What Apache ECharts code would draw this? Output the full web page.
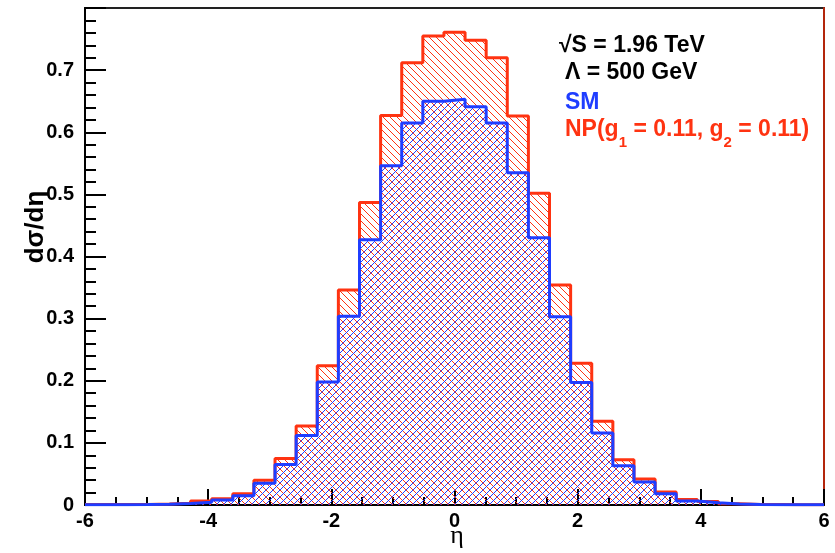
<!DOCTYPE html>
<html>
<head>
<meta charset="utf-8">
<script src="https://cdn.jsdelivr.net/npm/echarts@6/dist/echarts.min.js"></script>
<style>
  html, body { margin: 0; padding: 0; background: #fff; }
  #chart { width: 835px; height: 553px; }
</style>
</head>
<body>
<div id="chart"></div>
<script>
// histogram binning (eta)
const etaMin = -6;
const etaMax = 6;
const nBins = 35;

// bin contents (left to right)
const npValues = [0.0008, 0.0008, 0.001, 0.0015, 0.003, 0.0065, 0.010, 0.018, 0.040, 0.075,
  0.127, 0.224, 0.346, 0.487, 0.627, 0.712, 0.755, 0.761, 0.748, 0.720,
  0.626, 0.502, 0.354, 0.228, 0.135, 0.073, 0.042, 0.021, 0.009, 0.0055,
  0.002, 0.001, 0.0008, 0.0006, 0.0006];
const smValues = [0.0006, 0.0006, 0.0008, 0.0012, 0.0024, 0.0045, 0.008, 0.015, 0.035, 0.065,
  0.112, 0.198, 0.304, 0.427, 0.546, 0.615, 0.650, 0.653, 0.641, 0.615,
  0.535, 0.430, 0.303, 0.197, 0.116, 0.063, 0.037, 0.018, 0.0065, 0.0035,
  0.0015, 0.0008, 0.0006, 0.0005, 0.0005];

const xTicks = [-6, -4, -2, 0, 2, 4, 6];
const yTicks = [0, 0.1, 0.2, 0.3, 0.4, 0.5, 0.6, 0.7];

const RED = '#ff3311';
const BLUE = '#1f3dff';
const FONT = 'Liberation Sans, Arial, sans-serif';

// turn bin contents into step points at the bin edges
function toSteps(values) {
  const w = (etaMax - etaMin) / nBins;
  const pts = values.map((v, i) => [etaMin + i * w, v]);
  pts.push([etaMax, values[values.length - 1]]);
  return pts;
}

// ROOT style hatch fill (transparent background)
function hatch(color, back) {
  const n = 7;
  const c = document.createElement('canvas');
  c.width = n; c.height = n;
  const ctx = c.getContext('2d');
  ctx.fillStyle = color;
  for (let i = 0; i < n; i++) {
    ctx.fillRect(i, back ? i : n - 1 - i, 1, 1);
  }
  return c;
}

const myChart = echarts.init(document.getElementById('chart'));

const option = {
  animation: false,
  grid: {
    left: 85, right: 11, top: 8, bottom: 48,
    outerBoundsMode: 'none',
    show: true, borderColor: '#222', borderWidth: 2
  },
  xAxis: {
    type: 'value',
    min: xTicks[0], max: xTicks[xTicks.length - 1], interval: xTicks[1] - xTicks[0],
    axisLine: { onZero: false, lineStyle: { color: '#000', width: 2 } },
    axisTick: { inside: true, length: 16, lineStyle: { color: '#000', width: 2 } },
    minorTick: { show: true, splitNumber: 4, length: 8, lineStyle: { color: '#000', width: 2 } },
    axisLabel: { fontFamily: FONT, fontWeight: 'bold', fontSize: 20, color: '#000', margin: 6 },
    splitLine: { show: false }
  },
  yAxis: [{
    type: 'value',
    min: yTicks[0], max: 0.8, interval: yTicks[1] - yTicks[0],
    axisLine: { show: true, onZero: false, lineStyle: { color: '#000', width: 2 } },
    axisTick: { inside: true, length: 21, lineStyle: { color: '#000', width: 2 } },
    minorTick: { show: true, splitNumber: 5, length: 11, lineStyle: { color: '#000', width: 2 } },
    axisLabel: {
      fontFamily: FONT, fontWeight: 'bold', fontSize: 20, color: '#000', margin: 11,
      showMaxLabel: false
    },
    splitLine: { show: false }
  }, {
    type: 'value',
    position: 'right',
    min: 0, max: 0.8,
    axisLine: { show: true, onZero: false, lineStyle: { color: '#b3260c', width: 2 } },
    axisTick: { show: false },
    axisLabel: { show: false },
    splitLine: { show: false }
  }],
  graphic: [
    {
      type: 'text', x: 36, y: 227, rotation: Math.PI / 2,
      style: { text: 'dσ/dη', font: 'bold 26px ' + FONT, fill: '#000', align: 'center', verticalAlign: 'middle' }
    },
    {
      type: 'text', x: 457, y: 536,
      style: { text: 'η', font: '26px Liberation Serif, serif', fill: '#000', align: 'center', verticalAlign: 'middle' }
    },
    {
      type: 'text', x: 559, y: 46,
      style: { text: '√S = 1.96 TeV', font: 'bold 23px ' + FONT, fill: '#000', align: 'left', verticalAlign: 'middle' }
    },
    {
      type: 'text', x: 565, y: 73,
      style: { text: 'Λ = 500 GeV', font: 'bold 23px ' + FONT, fill: '#000', align: 'left', verticalAlign: 'middle' }
    },
    {
      type: 'text', x: 565, y: 103,
      style: { text: 'SM', font: 'bold 23px ' + FONT, fill: BLUE, align: 'left', verticalAlign: 'middle' }
    },
    {
      type: 'text', x: 565, y: 134,
      style: {
        text: '{a|NP(g}{s|1}{a| = 0.11, g}{s|2}{a| = 0.11)}',
        align: 'left', verticalAlign: 'middle',
        rich: {
          a: { fontFamily: FONT, fontWeight: 'bold', fontSize: 23, fill: RED, color: RED, lineHeight: 32, verticalAlign: 'top' },
          s: { fontFamily: FONT, fontWeight: 'bold', fontSize: 15, fill: RED, color: RED, lineHeight: 32, verticalAlign: 'bottom' }
        }
      }
    }
  ],
  series: [
    {
      name: 'NP',
      type: 'line',
      step: 'end',
      symbol: 'none',
      data: toSteps(npValues),
      lineStyle: { color: RED, width: 3 },
      areaStyle: { color: { image: hatch(RED, true), repeat: 'repeat' }, opacity: 1 },
      z: 2
    },
    {
      name: 'SM',
      type: 'line',
      step: 'end',
      symbol: 'none',
      data: toSteps(smValues),
      lineStyle: { color: BLUE, width: 3 },
      areaStyle: { color: { image: hatch(BLUE, false), repeat: 'repeat' }, opacity: 1 },
      z: 3
    }
  ]
};

myChart.setOption(option);
window.addEventListener('resize', function () {
  myChart.resize();
});
</script>
</body>
</html>
